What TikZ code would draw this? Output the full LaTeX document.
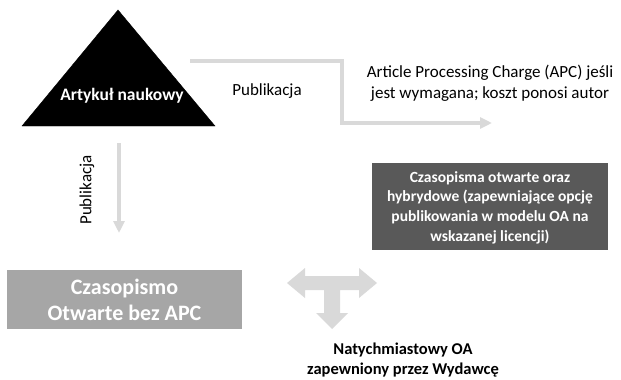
\documentclass[tikz,border=0pt]{standalone}
\usepackage{fontspec}
\setmainfont{Carlito}
\usetikzlibrary{arrows.meta}
\definecolor{lightarrow}{HTML}{D9D9D9}
\definecolor{darkbox}{HTML}{595959}
\definecolor{midbox}{HTML}{A6A6A6}
\begin{document}
\begin{tikzpicture}[x=1pt,y=-1pt,
  conn/.style={draw=lightarrow,line width=4pt,-{Triangle[length=12pt,width=11pt]}},
  lbl/.style={font=\fontsize{17}{21}\selectfont,text=black,inner sep=0pt},
  boxtxt/.style={text=white,font=\bfseries,align=center,inner sep=0pt}]
\useasboundingbox (0,0) rectangle (621,380);
% triangle
\draw[fill=black] (118,10) -- (215,126) -- (22,126) -- cycle;
\node[boxtxt,font=\bfseries\fontsize{17.5}{21}\selectfont] (art) at (122,96) {Artykuł naukowy};
% right elbow connector
\coordinate (s1) at (190,61);
\coordinate (e1) at (492,123);
\draw[conn] (s1) -- (342,61) |- (e1);
\node[lbl] (pub1) at (267,91) {Publikacja};
\node[lbl,align=center] (apc) at (490,83) {Article Processing Charge (APC) jeśli\\jest wymagana; koszt ponosi autor};
% dark box
\node[fill=darkbox,minimum width=236pt,minimum height=87pt,inner sep=0pt] (hyb) at (490,206.5) {};
\node[boxtxt,font=\bfseries\fontsize{15.5}{19.7}\selectfont,yshift=-1pt] (hybt) at (hyb) {Czasopisma otwarte oraz\\hybrydowe (zapewniające opcję\\publikowania w modelu OA na\\wskazanej licencji)};
% vertical connector
\coordinate (s2) at (119,143);
\coordinate (e2) at (119,233);
\draw[conn] (s2) -- (e2);
\node[lbl,rotate=90] (pub2) at (87,190) {Publikacja};
% light box
\node[fill=midbox,minimum width=235pt,minimum height=59pt,inner sep=0pt] (oa) at (124.5,299.5) {};
\node[boxtxt,font=\bfseries\fontsize{22}{26}\selectfont] (oat) at (oa) {Czasopismo\\Otwarte bez APC};
% T arrow
\fill[lightarrow] (287,283) -- (305,268) -- (305,276) -- (359,276) -- (359,268) -- (377,283) -- (359,298) -- (359,290) -- (340,290) -- (340,313) -- (348,313) -- (332,329) -- (316,313) -- (324,313) -- (324,290) -- (305,290) -- (305,298) -- cycle;
\node[text=black,font=\bfseries\fontsize{16.5}{20}\selectfont,align=center,inner sep=0pt] (nat) at (403,360) {Natychmiastowy OA\\zapewniony przez Wydawcę};
\end{tikzpicture}
\end{document}
